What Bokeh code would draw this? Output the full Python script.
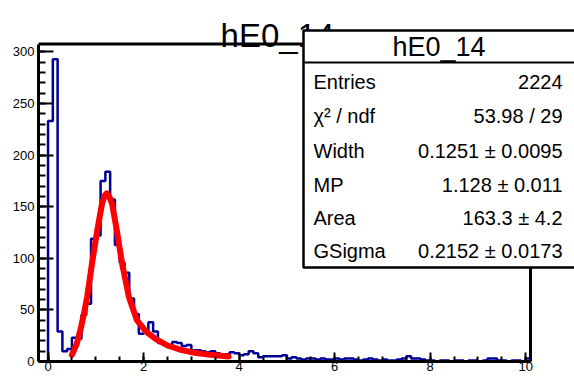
import numpy as np
from bokeh.plotting import figure
from bokeh.models import Range1d, FixedTicker, Label, BoxAnnotation, GlobalInlineStyleSheet
from bokeh.embed import file_html
from bokeh.resources import INLINE

# ---------------- data ----------------
bin_lo = 0.0
bin_width = 0.1
counts = [
    233, 293, 29, 10, 12, 23, 22, 45, 56, 119,
    122, 175, 184, 157, 113, 96, 86, 61, 46, 27,
    28, 38, 29, 18, 16, 14, 19, 18, 15, 16,
    11, 11, 10, 9, 10, 8, 7, 7, 9, 8,
    6, 7, 10, 8, 4, 5, 5, 5, 5, 6,
    3, 4, 3, 2, 3, 3, 2, 3, 2, 2,
    3, 2, 3, 3, 2, 1, 2, 3, 2, 1,
    2, 1, 1, 2, 3, 5, 3, 3, 2, 1,
    1, 0, 1, 1, 0, 1, 1, 0, 1, 1,
    0, 1, 3, 3, 1, 1, 0, 1, 1, 0,
    3,
]
fit_x = [0.50, 0.60, 0.68, 0.75, 0.82, 0.92, 1.03, 1.13, 1.19, 1.23, 1.28,
         1.34, 1.44, 1.55, 1.69, 1.86, 2.05, 2.25, 2.50, 2.80, 3.10, 3.45, 3.78]
fit_y = [6.5, 17, 31, 46, 63, 95, 127, 153, 161, 163, 160,
         153, 127, 95, 63, 40, 29, 22, 15.5, 11, 8.2, 6.2, 4.8]
x_lo, x_hi = -0.2, 10.1
y_lo, y_hi = 0.0, 307.6
x_ticks = [0, 2, 4, 6, 8, 10]
y_ticks = [0, 50, 100, 150, 200, 250, 300]
title = "hE0_14"
stat_names = ["Entries", "\u03c7\u00b2 / ndf", "Width", "MP", "Area", "GSigma"]
stat_values = ["2224", "53.98 / 29", "0.1251 \u00b1 0.0095", "1.128 \u00b1 0.011",
               "163.3 \u00b1 4.2", "0.2152 \u00b1 0.0173"]

# ---------------- layout ----------------
W, H = 574, 376
ML, MB = 38, 15                 # left / bottom panels (axes)
HIST_RIGHT_PX = 530             # where x_hi sits on the page
HIST_TOP_PX = 43.6              # where y_hi sits on the page
FONT = "Liberation Sans"

frame_bottom = H - MB
x_end = x_lo + (x_hi - x_lo) * (W - ML) / (HIST_RIGHT_PX - ML)
y_end = y_lo + (y_hi - y_lo) * frame_bottom / (frame_bottom - HIST_TOP_PX)

p = figure(width=W, height=H, output_backend="svg", toolbar_location=None,
           x_range=Range1d(x_lo, x_end), y_range=Range1d(y_lo, y_end),
           min_border_left=ML, min_border_right=0,
           min_border_top=0, min_border_bottom=MB)
p.stylesheets = [GlobalInlineStyleSheet(css="html, body { overflow: hidden; }")]
p.background_fill_color = "white"
p.border_fill_color = "white"
p.outline_line_color = None
p.grid.visible = False

xa = p.xaxis[0]
xa.ticker = FixedTicker(ticks=x_ticks, minor_ticks=[i * 0.5 for i in range(21)])
xa.bounds = (x_lo, x_hi)
xa.major_tick_in = 9
xa.major_tick_out = 0
xa.minor_tick_in = 5
xa.minor_tick_out = 0
xa.major_tick_line_width = 2
xa.minor_tick_line_width = 2
xa.axis_line_width = 3
xa.major_label_standoff = 0
xa.major_label_text_font = FONT
xa.major_label_text_font_size = "13px"
xa.major_label_text_color = "black"

ya = p.yaxis[0]
ya.ticker = FixedTicker(ticks=y_ticks, minor_ticks=list(range(0, 301, 10)))
ya.bounds = (y_lo, y_hi)
ya.major_tick_in = 15
ya.major_tick_out = 0
ya.minor_tick_in = 7
ya.minor_tick_out = 0
ya.major_tick_line_width = 2
ya.minor_tick_line_width = 2
ya.axis_line_width = 3
ya.major_label_standoff = 4
ya.major_label_text_font = FONT
ya.major_label_text_font_size = "13px"
ya.major_label_text_color = "black"

# histogram outline
edges = bin_lo + bin_width * np.arange(len(counts) + 1)
hx = np.repeat(edges, 2)
hy = np.concatenate([[0], np.repeat(np.array(counts, dtype=float), 2), [0]])
p.line(hx, hy, line_color="#000099", line_width=2.5)

# fit curve
p.line(fit_x, fit_y, line_color="#ff0000", line_width=6, line_join="round", line_cap="round")

# ROOT frame (top / right sides)
p.add_layout(BoxAnnotation(left=x_lo, right=x_hi, bottom=y_lo, top=y_hi,
                           fill_alpha=0, line_color="black", line_width=3, line_alpha=1.0))


# ---------------- title and stats box (screen units relative to frame) ----------------
def sx(px):
    return px - ML


def sy(py):
    return frame_bottom - py


p.add_layout(Label(x=sx(277), y=sy(35), x_units="screen", y_units="screen", text=title,
                   text_font=FONT, text_font_size="33px", text_align="center",
                   text_baseline="alphabetic", text_color="black"))

p.add_layout(BoxAnnotation(left=sx(303), right=sx(600), top=sy(30), bottom=sy(267),
                           left_units="screen", right_units="screen",
                           top_units="screen", bottom_units="screen",
                           fill_color="white", fill_alpha=1.0,
                           line_color="black", line_width=2.5, line_alpha=1.0))
p.add_layout(BoxAnnotation(left=sx(303), right=sx(600), top=sy(61), bottom=sy(63),
                           left_units="screen", right_units="screen",
                           top_units="screen", bottom_units="screen",
                           fill_color="black", fill_alpha=1.0, line_alpha=0))

p.add_layout(Label(x=sx(438.5), y=sy(46), x_units="screen", y_units="screen", text=title,
                   text_font=FONT, text_font_size="27px", text_align="center",
                   text_baseline="middle", text_color="black"))

row_y = [81.7, 115.5, 150, 184, 217, 250]
for name, val, ry in zip(stat_names, stat_values, row_y):
    p.add_layout(Label(x=sx(313), y=sy(ry), x_units="screen", y_units="screen", text=name,
                       text_font=FONT, text_font_size="20px", text_align="left",
                       text_baseline="middle", text_color="black"))
    p.add_layout(Label(x=sx(562), y=sy(ry), x_units="screen", y_units="screen", text=val,
                       text_font=FONT, text_font_size="20px", text_align="right",
                       text_baseline="middle", text_color="black"))

open("out.html", "w").write(file_html(p, INLINE))
